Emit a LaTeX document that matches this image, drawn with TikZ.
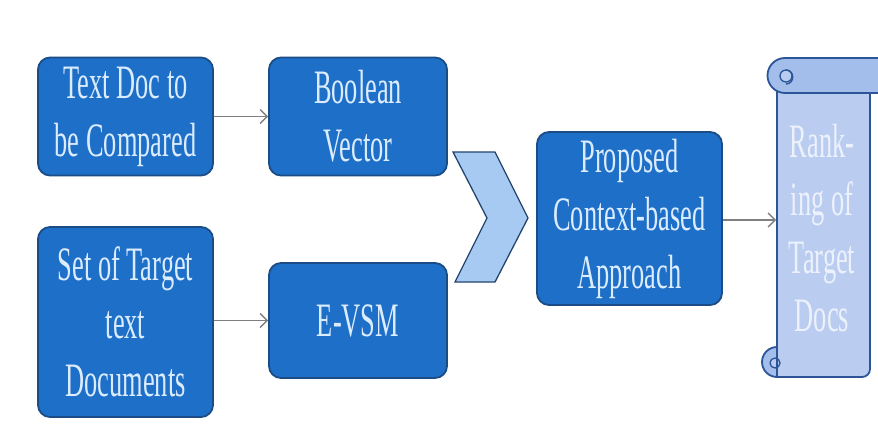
\documentclass[tikz,border=0pt]{standalone}
\usepackage{fontspec}
\setmainfont{Liberation Serif}[FakeStretch=0.55]
\usetikzlibrary{arrows.meta}
\definecolor{boxfill}{HTML}{1E6FC8}
\definecolor{boxline}{HTML}{1B4C86}
\definecolor{boxtext}{HTML}{DCECFF}
\definecolor{chevfill}{HTML}{A7CAF2}
\definecolor{chevline}{HTML}{23456E}
\definecolor{scrollfill}{HTML}{BACDF1}
\definecolor{rollfill}{HTML}{A4BEEC}
\definecolor{scrollline}{HTML}{2B5597}
\definecolor{scrolltext}{HTML}{ECF1FB}
\definecolor{linkgray}{HTML}{7F7F7F}
\tikzset{
  stepbox/.style={draw=boxline, line width=1.8pt, fill=boxfill, rounded corners=12pt,
    text=boxtext, align=center, inner sep=0pt,
    font=\fontsize{48}{58}\selectfont},
  link/.style={draw=linkgray, line width=1.4pt,
    -{Straight Barb[length=7pt,width=14pt,line width=1.4pt]}},
  scrollpart/.style={draw=scrollline, line width=1.8pt, line join=round}
}
\begin{document}
\begin{tikzpicture}[x=1pt, y=-1pt]
\useasboundingbox[fill=white] (0,0) rectangle (878,434);

% input and processing boxes
\node[stepbox, minimum width=175pt, minimum height=118pt] (doc)    at (125.5,116.5) {Text Doc to\\be Compared};
\node[stepbox, minimum width=178pt, minimum height=118pt] (bool)   at (358,116.5)   {Boolean\\Vector};
\node[stepbox, minimum width=175pt, minimum height=190pt] (target) at (125.5,322)   {Set of Target\\text\\Documents};
\node[stepbox, minimum width=178pt, minimum height=115pt] (evsm)   at (358,320.5)   {E-VSM};
\node[stepbox, minimum width=185pt, minimum height=173pt] (prop)   at (629.5,218.5) {Proposed\\Context-based\\Approach};

% chevron merging both branches
\draw[fill=chevfill, draw=chevline, line width=1.3pt, line join=miter]
  (453,152) -- (495,152) -- (528,218) -- (495,282) -- (455,282) -- (487,218) -- cycle;

% scroll: body
\draw[scrollpart, fill=scrollfill]
  (777,80) -- (777,377) -- (862,377)
  .. controls (866.5,377) and (870,373.5) .. (870,369) -- (870,80);
% scroll: top roll
\draw[scrollpart, fill=rollfill]
  (890,58) -- (785,58) arc[start angle=270, end angle=90, radius=17.5] -- (890,93);
\draw[scrollpart, fill=scrollfill, line width=1.3pt] (786,76) circle[radius=6];
\draw[scrollpart, line width=1.3pt] (786,70) .. controls (795,70) and (795,84) .. (786,84);
% scroll: bottom curl
\draw[scrollpart, fill=rollfill]
  (777,347) arc[start angle=270, end angle=90, radius=15] -- cycle;
\draw[scrollpart, fill=scrollfill, line width=1.3pt] (775,363) circle[radius=5];
\draw[scrollpart] (777,347) -- (777,377);

\node[text=scrolltext, align=center, inner sep=0pt,
      font=\fontsize{48}{58}\selectfont] (rank) at (822,228) {Rank-\\ing of\\Target\\Docs};
\coordinate (scrollin) at (776,220);

% connectors
\draw[link] (doc.east) -- (doc.east -| bool.west);
\draw[link] (target.east |- evsm.east) -- (evsm.west);
\draw[link] (prop.east |- scrollin) -- (scrollin);
\end{tikzpicture}
\end{document}
